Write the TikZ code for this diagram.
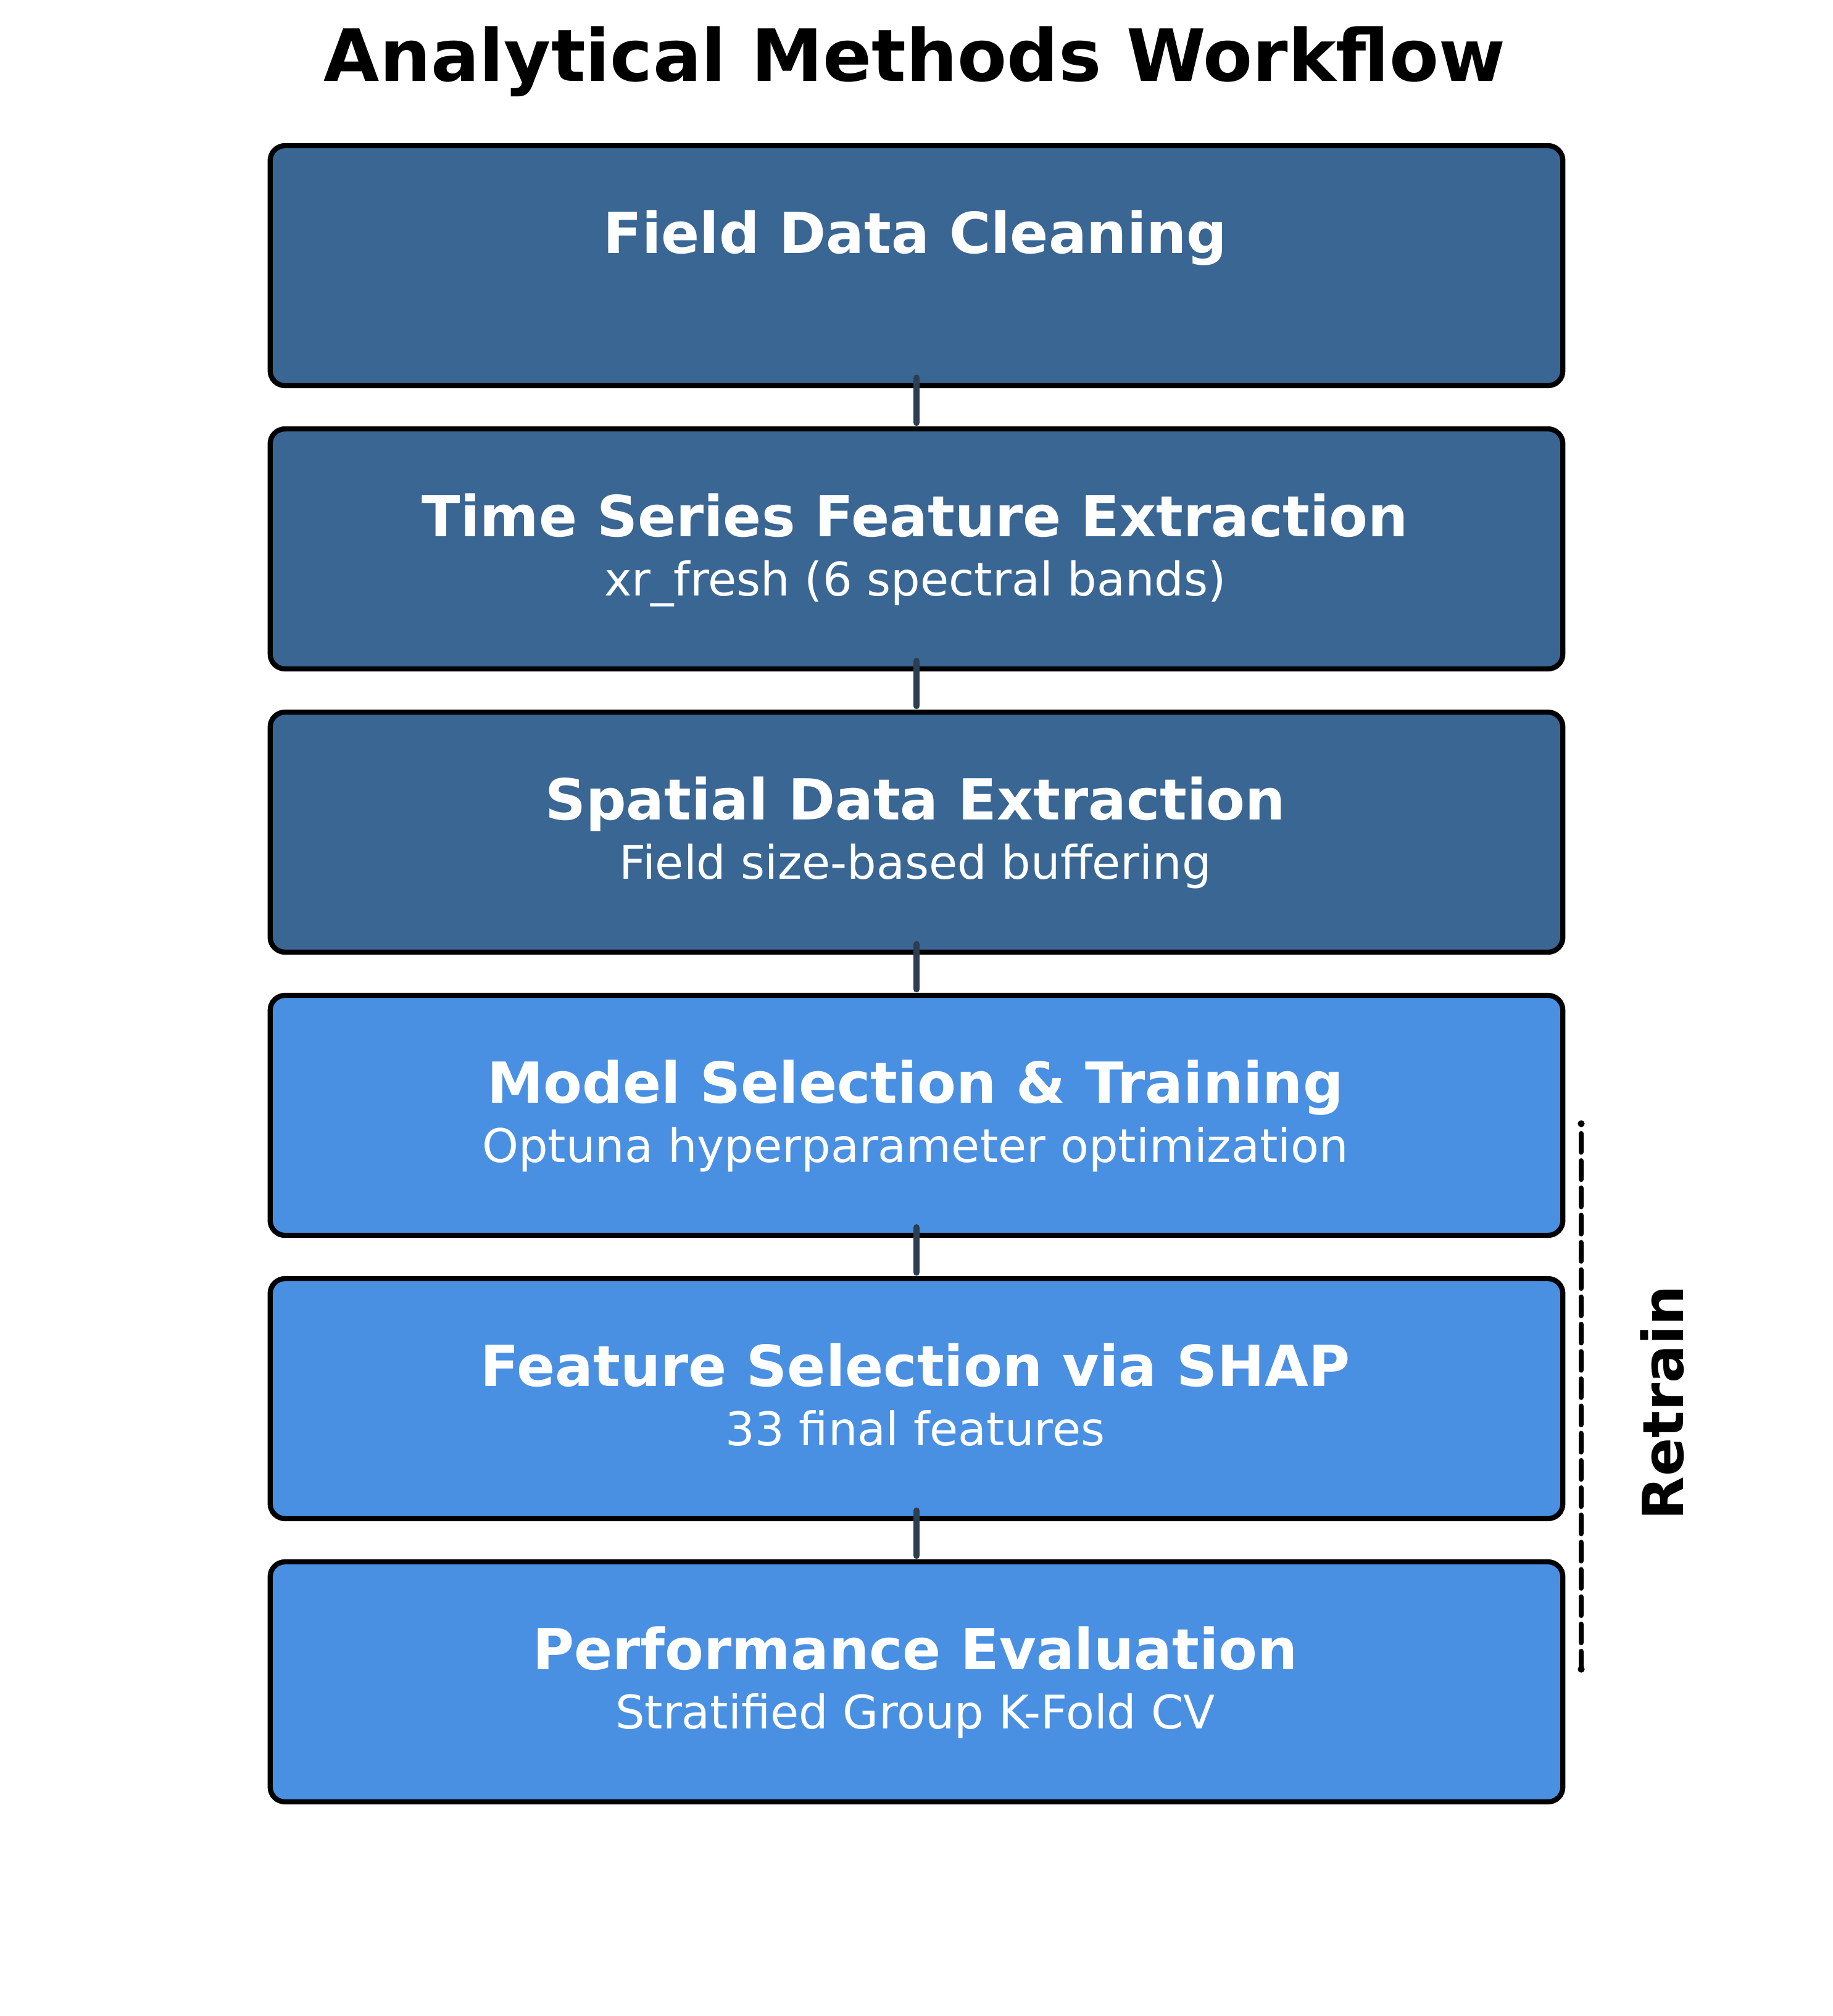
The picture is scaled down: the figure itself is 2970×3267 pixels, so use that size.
\documentclass[tikz,border=0pt]{standalone}
\usepackage{fontspec}
\setmainfont{DejaVu Sans}
\definecolor{darkbox}{HTML}{3A6694}
\definecolor{lightbox}{HTML}{4A90E2}
\definecolor{conn}{HTML}{2C3E50}
\tikzset{
  stagebox/.style={draw=black, line width=2pt, rounded corners=5.8pt, minimum width=502.7pt, minimum height=93.36pt, inner sep=0pt, outer sep=0pt},
  darkstage/.style={stagebox, fill=darkbox},
  lightstage/.style={stagebox, fill=lightbox},
  boxtitle/.style={anchor=base, text=white, font=\fontsize{22}{26}\selectfont\bfseries, inner sep=0pt},
  boxsub/.style={anchor=base, text=white, font=\fontsize{18}{22}\selectfont, inner sep=0pt},
  link/.style={draw=conn, line width=2.5pt, line cap=round},
  retrainline/.style={draw=black, line width=2pt, line cap=round, dash pattern=on 7.2pt off 3.4pt},
}
\begin{document}
\begin{tikzpicture}[x=0.24pt, y=-0.24pt]
\useasboundingbox (0,0) rectangle (2970,3267);
\node[anchor=base, inner sep=0pt, font=\fontsize{28}{34}\selectfont\bfseries] (title) at (1482,131) {Analytical Methods Workflow};

\node[darkstage] (b1) at (1485,430.5) {};
\node[darkstage] (b2) at (1485,889.5) {};
\node[darkstage] (b3) at (1485,1348.5) {};
\node[lightstage] (b4) at (1485,1807.5) {};
\node[lightstage] (b5) at (1485,2266.5) {};
\node[lightstage] (b6) at (1485,2725.5) {};

\node[boxtitle] (t1) at (1483,410) {Field Data Cleaning};
\node[boxtitle] (t2) at (1483,869) {Time Series Feature Extraction};
\node[boxsub] (s2) at (1483,965) {xr\_fresh (6 spectral bands)};
\node[boxtitle] (t3) at (1483,1328) {Spatial Data Extraction};
\node[boxsub] (s3) at (1483,1424) {Field size-based buffering};
\node[boxtitle] (t4) at (1483,1787) {Model Selection \& Training};
\node[boxsub] (s4) at (1483,1883) {Optuna hyperparameter optimization};
\node[boxtitle] (t5) at (1483,2246) {Feature Selection via SHAP};
\node[boxsub] (s5) at (1483,2342) {33 final features};
\node[boxtitle] (t6) at (1483,2705) {Performance Evaluation};
\node[boxsub] (s6) at (1483,2801) {Stratified Group K-Fold CV};

\foreach \a/\b in {b1/b2,b2/b3,b3/b4,b4/b5,b5/b6}{
  \draw[link] ([yshift=3.1pt]\a.south) -- ([yshift=2.4pt]\b.north);
}

\coordinate (d1) at (2562,1821);
\coordinate (d1s) at (2562,1837);
\coordinate (d2) at (2562,2705);
\fill (d1) circle[radius=1.35pt];
\fill (d2) circle[radius=1.35pt];
\draw[retrainline] (d1s) -- (d2);
\node[anchor=base, rotate=90, inner sep=0pt, font=\fontsize{22}{26}\selectfont\bfseries] (retrain) at (2727,2273) {Retrain};
\end{tikzpicture}
\end{document}
